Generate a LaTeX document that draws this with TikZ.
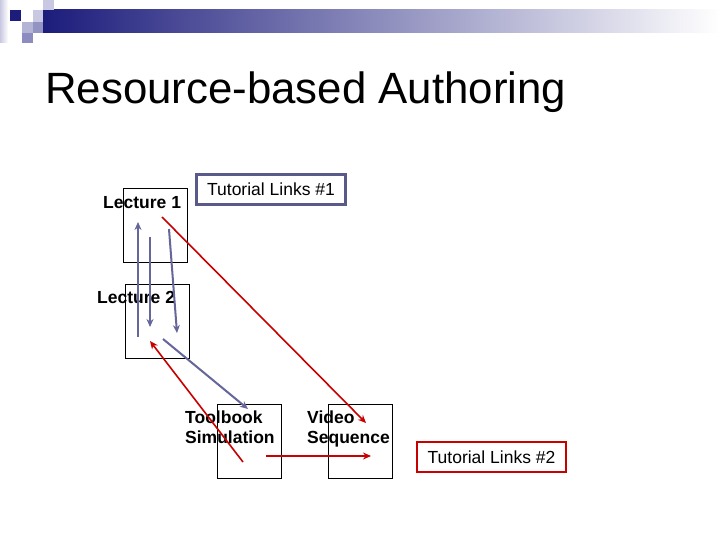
\documentclass[tikz,border=0pt]{standalone}
\usepackage{fontspec}
\setmainfont{Liberation Sans}
\usetikzlibrary{arrows.meta}
\definecolor{navy}{HTML}{1C1C7C}
\definecolor{midgray}{HTML}{A0A0BA}
\definecolor{slate}{HTML}{66669A}
\definecolor{linkred}{HTML}{C80000}
\definecolor{boxblue}{HTML}{5A5A8A}
\definecolor{lav1}{HTML}{C8C8E2}
\definecolor{lav2}{HTML}{B4B4D6}
\definecolor{lav3}{HTML}{8C8CC0}
\definecolor{lav4}{HTML}{9494C4}
\begin{document}
\begin{tikzpicture}[x=1pt,y=-1pt,
  card/.style={draw=black,line width=0.9pt,minimum width=64pt,minimum height=74pt,inner sep=0pt},
  lbl/.style={font=\fontsize{17.5}{20}\selectfont\bfseries,inner sep=0pt,align=left},
  tut/.style={font=\fontsize{17.5}{20}\selectfont,line width=2.4pt,minimum width=149pt,minimum height=30pt,inner sep=0pt},
  greylink/.style={draw=slate,line width=2pt,-{Stealth[length=8pt,width=7pt]}},
  redlink/.style={draw=linkred,line width=1.6pt,-{Stealth[length=8pt,width=7pt]}}]
\useasboundingbox (0,0) rectangle (720,540);
\fill[white] (0,0) rectangle (720,540);
% header decoration
\shade[left color=lav1,right color=white] (0,0) rectangle (8,43);
\shade[left color=navy,middle color=midgray,right color=white] (43,10) rectangle (720,33);
\fill[navy] (10,10) rectangle (21,21);
\fill[lav1] (33,10) rectangle (43,22);
\fill[lav1] (43,0) rectangle (54,10);
\fill[lav2] (22,22) rectangle (33,33);
\fill[lav4] (33,22) rectangle (43,33);
\fill[lav3] (22,33) rectangle (33,43);
% title
\node[anchor=base west,inner sep=0pt,font=\fontsize{43.8}{50}\selectfont] (title) at (45,104) {Resource-based Authoring};
% boxes
\node[card] (lec1) at (155,225) {};
\node[card] (lec2) at (157,321) {};
\node[card] (tool) at (249,441) {};
\node[card] (video) at (360,441) {};
\node[tut,draw=boxblue] (tut1) at (271,189.5) {Tutorial Links \#1};
\node[tut,draw=linkred] (tut2) at (491.5,457) {Tutorial Links \#2};
% labels
\node[lbl,anchor=base west] (lec1t) at (103,208) {Lecture 1};
\node[lbl,anchor=base west] (lec2t) at (97,303) {Lecture 2};
\node[lbl,anchor=base west] (toolt) at (185,443) {Toolbook\\[-0.5pt]Simulation};
\node[lbl,anchor=base west] (videot) at (307,443) {Video\\[-0.5pt]Sequence};
% anchor coordinates for connectors
\coordinate (a1s) at (138,337); \coordinate (a1e) at (138,222);
\coordinate (a2s) at (150,237); \coordinate (a2e) at (150,327);
\coordinate (a3s) at (169,229); \coordinate (a3e) at (177,333);
\coordinate (a4s) at (163,339); \coordinate (a4e) at (248,409);
\coordinate (r1s) at (162,217); \coordinate (r1e) at (366,423);
\coordinate (r2s) at (243,462); \coordinate (r2e) at (150,341);
\coordinate (r3s) at (266,456); \coordinate (r3e) at (371,456);
% connectors
\draw[greylink] (a1s) -- (a1e);
\draw[greylink] (a2s) -- (a2e);
\draw[greylink] (a3s) -- (a3e);
\draw[greylink] (a4s) -- (a4e);
\draw[redlink] (r1s) -- (r1e);
\draw[redlink] (r2s) -- (r2e);
\draw[redlink] (r3s) -- (r3e);
\end{tikzpicture}
\end{document}
